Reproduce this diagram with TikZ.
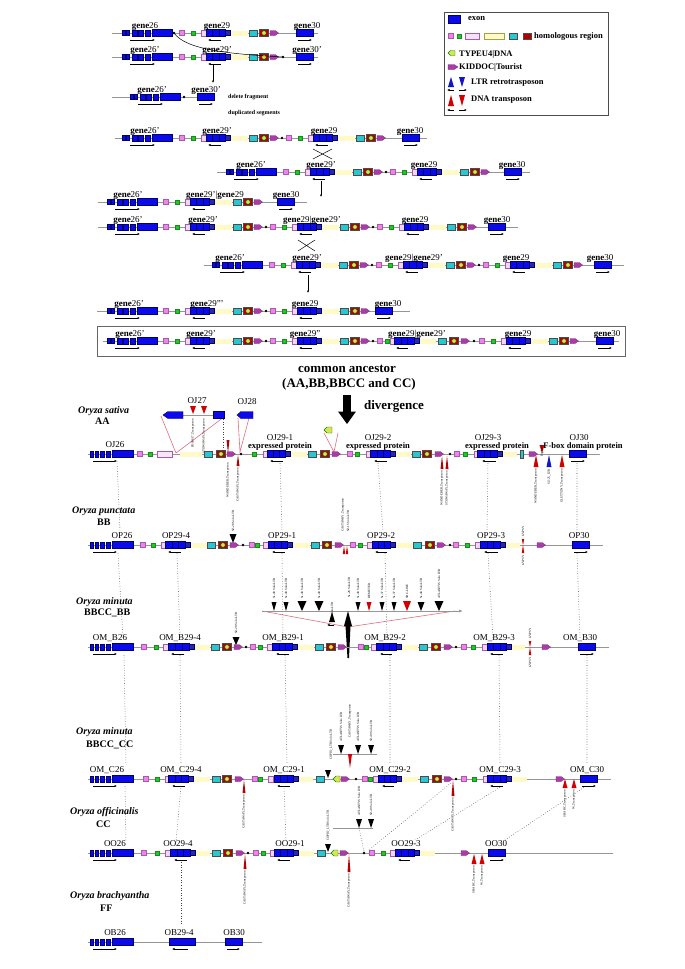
\documentclass[tikz,border=0pt]{standalone}
\usepackage{fontspec}
\setmainfont{Liberation Serif}
\usetikzlibrary{arrows.meta}
\definecolor{exb}{RGB}{10,10,235}
\definecolor{exd}{RGB}{0,0,110}
\definecolor{pk}{RGB}{240,130,240}
\definecolor{gr}{RGB}{30,200,40}
\definecolor{lpk}{RGB}{240,215,240}
\definecolor{opd}{RGB}{170,90,170}
\definecolor{yl}{RGB}{255,250,200}
\definecolor{cy}{RGB}{40,200,210}
\definecolor{rd}{RGB}{210,0,0}
\definecolor{rdk}{RGB}{180,0,0}
\definecolor{pu}{RGB}{170,60,170}
\definecolor{ty}{RGB}{215,230,80}
\definecolor{db}{RGB}{40,40,170}
\definecolor{rl}{RGB}{150,150,150}
\definecolor{bl}{RGB}{20,20,200}
\definecolor{pl}{RGB}{225,110,130}
\tikzset{
 rline/.style={draw=rl,line width=0.9pt},
 ex/.style={fill=exb,draw=exd,line width=0.4pt},
 pks/.style={fill=pk,draw=pk!70!black,line width=0.3pt},
 grs/.style={fill=gr,draw=gr!70!black,line width=0.3pt},
 ops/.style={fill=lpk,draw=opd,line width=0.5pt},
 dbs/.style={fill=db,draw=exd,line width=0.3pt},
 cys/.style={fill=cy,draw=black!70,line width=0.4pt},
 rds/.style={fill=rdk,draw=black!70,line width=0.4pt},
 tys/.style={fill=ty,draw=green!50!black,line width=0.4pt},
 pus/.style={fill=pu,draw=pu!70!black,line width=0.3pt},
 gar/.style={-{Latex[length=2.5pt,width=2.2pt]},line width=0.5pt},
 dotl/.style={draw=black!75,dotted,line width=0.55pt},
 glab/.style={font=\fontsize{9}{9}\selectfont,anchor=base,inner sep=0},
 olab/.style={font=\fontsize{9}{9}\selectfont,anchor=base,inner sep=0},
 eplab/.style={font=\bfseries\fontsize{8.5}{8.5}\selectfont,anchor=base,inner sep=0},
 vla/.style={font=\fontsize{3.2}{3.2}\selectfont,rotate=90,inner sep=0,anchor=west},
 vlb/.style={font=\fontsize{3.2}{3.2}\selectfont,rotate=90,inner sep=0,anchor=east},
 spa/.style={font=\bfseries\itshape\fontsize{10}{10}\selectfont,anchor=west,inner sep=0},
 spb/.style={font=\bfseries\fontsize{10}{10}\selectfont,anchor=west,inner sep=0},
 pinkl/.style={draw=pl,line width=0.6pt},
 lgt/.style={font=\bfseries\fontsize{8.5}{8.5}\selectfont,anchor=west,inner sep=0},
 big/.style={font=\bfseries\fontsize{13}{13}\selectfont,inner sep=0},
 sml/.style={font=\bfseries\fontsize{6}{6}\selectfont,anchor=west,inner sep=0},
}
\newcommand\RL[2]{\draw[rline] (#1,0) -- (#2,0);}
\newcommand\PK[1]{\draw[pks] ({#1},-2.5) rectangle ++(5,5);}
\newcommand\GR[1]{\draw[grs] ({#1},-2) rectangle ++(4,4);}
\newcommand\OP[1]{\draw[ops] ({#1},-3) rectangle ++(5,6);}
\newcommand\BG[2]{\draw[ex] ({#1},-3.5) rectangle ({#2},3.5);
 \draw[exd,line width=.3pt] ({(#1)+((#2)-(#1))/3},-3.5) -- ++(0,7) ({(#1)+2*((#2)-(#1))/3},-3.5) -- ++(0,7);}
\newcommand\DB[1]{\draw[dbs] ({#1},-2.5) rectangle ++(5,5);}
\newcommand\YL[2]{\fill[yl] ({#1},-2.5) rectangle ({#2},2.5);}
\newcommand\CY[1]{\draw[cys] ({#1},-3) rectangle ++(8,6);}
\newcommand\RD[1]{\draw[rds] ({#1},-3.5) rectangle ++(9,7); \draw[tys] ({#1+5},0) circle (2.2);}
\newcommand\PU[1]{\draw[pus] ({#1},-2.5) -- ({#1+5},-2.5) -- ({#1+8.5},0) -- ({#1+5},2.5) -- ({#1},2.5) -- cycle;}
\newcommand\TY[1]{\draw[tys] ({#1},0) -- ({#1+3},-3) -- ({#1+7},-3) -- ({#1+7},3) -- ({#1+3},3) -- cycle;}
\newcommand\DT[1]{\fill ({#1},0) circle (1.4);}
\newcommand\AL[2]{\draw[gar] ({#2},7) -- ({#1},7);}
\newcommand\AR[2]{\draw[gar] ({#1},7) -- ({#2},7);}
\newcommand\GT[1]{\draw[ex] ({#1},-3.5) rectangle ({#1+17},3.5); \AR{#1+2}{#1+16}}
\newcommand\Cas[1]{\YL{#1+51}{#1+69}\PK{#1}\GR{#1+12}\OP{#1+22}\BG{#1+27}{#1+46}\DB{#1+46}\CY{#1+70}\RD{#1+80}\PU{#1+91}\AL{#1+29}{#1+42}}
\newcommand\Gsix[1]{\draw[ex] ({#1},-2.5) rectangle ++(3,5); \draw[ex] ({#1+4.5},-2.5) rectangle ++(2.5,5);
 \draw[ex] ({#1+10.5},-3) rectangle ++(4.5,6); \draw[ex] ({#1+16.5},-3) rectangle ++(5,6);
 \draw[ex] ({#1+23.5},-3) rectangle ++(5,6); \draw[ex] ({#1+30},-3.5) rectangle ++(20,7); \AR{#1+8}{#1+33}}
\newcommand\Gsixb[1]{\draw[ex] ({#1},-3) rectangle ++(3,6); \draw[ex] ({#1+5},-3) rectangle ++(3,6);
 \draw[ex] ({#1+10},-3) rectangle ++(4,6); \draw[ex] ({#1+16},-3) rectangle ++(4,6);
 \draw[ex] ({#1+22},-3.5) rectangle ++(21,7); \AR{#1+3}{#1+27}}
\newcommand\GL[2]{\node[glab] at (#1,-4.5) {#2};}
\newcommand\OL[2]{\node[olab] at (#1,-6.5) {#2};}
\newcommand\Tri[5][black]{\fill[#1] ({#2},{#3}) -- ({#2-(#4)/2},{#3+(#5)}) -- ({#2+(#4)/2},{#3+(#5)}) -- cycle;}
\newcommand\gn{\textbf{gene}}
\begin{document}
\begin{tikzpicture}[x=1pt,y=-1pt]
\useasboundingbox (0,0) rectangle (685,969);
\fill[white] (0,0) rectangle (685,969);
% ---------------- legend
\draw[black!70,line width=0.6pt] (444,12) rectangle (608,115);
\draw[ex] (448,15) rectangle (460,23); \node[lgt] at (468,19) {exon};
\draw[pks] (448,33.5) rectangle (453,38.5); \draw[grs] (457,34) rectangle (461,38);
\draw[ops,fill=lpk!70] (465,33) rectangle (479,39); \draw[fill=yl,draw=yellow!60!black,line width=0.2pt] (484,33) rectangle (504,39);
\draw[cys] (509,33) rectangle (517,39); \draw[rds] (523,33) rectangle (531,39);
\node[lgt] at (534,36) {homologous region};
\draw[tys] (448,53) -- (450.5,50.5) -- (455,50.5) -- (455,55.5) -- (450.5,55.5) -- cycle; \node[lgt] at (459,54) {TYPEU4|DNA};
\draw[pus] (448,64.5) -- (454,64.5) -- (458,67) -- (454,69.5) -- (448,69.5) -- cycle; \node[lgt] at (459,67) {KIDDOC|Tourist};
\Tri[bl]{451}{77}{6}{10} \Tri[bl]{462}{87}{6}{-10}
\draw[gar] (454,90) -- (447,90); \draw[gar] (459,90) -- (467,90);
\node[lgt] at (471,83) {LTR retrotrasposon};
\Tri[rd]{451}{95}{6}{11} \Tri[rd]{462}{106}{6}{-11}
\draw[gar] (454,110) -- (447,110); \draw[gar] (459,110) -- (467,110);
\node[lgt] at (471,100) {DNA transposon};
% ---------------- row 1
\begin{scope}[shift={(0,33)}]
\RL{112}{318}\Gsix{122}\DT{174}\Cas{179}\GT{296}
\GL{145}{\gn26}\GL{217}{\gn29}\GL{307}{\gn30}
\end{scope}
\begin{scope}[shift={(0,57)}]
\RL{112}{318}\Gsix{122}\Cas{179}\DT{283}\GT{296}
\GL{145}{\gn26'}\GL{217}{\gn29'}\GL{307}{\gn30'}
\end{scope}
\draw[line width=0.5pt] (174,33) .. controls (186,50) and (230,54) .. (283,57);
\draw[gar] (213,65) -- (213,83);
\begin{scope}[shift={(0,97)}]
\RL{112}{215}\Gsix{130}\DT{184}\GT{197}
\GL{152}{\gn26'}\GL{206}{\gn30'}
\end{scope}
\node[sml] at (228,97) {delete fragment};
\node[sml] at (228,113) {duplicated segments};
\begin{scope}[shift={(0,138)}]
\RL{115}{427}\Gsix{122}\Cas{179}\DT{282}\Cas{286}\GT{402}
\GL{145}{\gn26'}\GL{217}{\gn29'}\GL{324}{\gn29}\GL{410}{\gn30}
\end{scope}
\draw[line width=0.5pt] (313,149) -- (332,159) (332,149) -- (313,159);
\begin{scope}[shift={(0,172)}]
\RL{217}{530}\Gsix{226}\Cas{283}\DT{386}\Cas{390}\GT{504}
\GL{251}{\gn26'}\GL{321}{\gn29'}\GL{424}{\gn29}\GL{512}{\gn30}
\end{scope}
\draw[gar] (321,181) -- (321,197);
\begin{scope}[shift={(0,202)}]
\RL{98}{307}\Gsix{107}\Cas{163}\GT{277}
\GL{128}{\gn26'}\GL{215}{\gn29'|\gn29}\GL{286}{\gn30}
\end{scope}
\begin{scope}[shift={(0,227)}]
\RL{98}{518}\Gsix{107}\Cas{163}\DT{266}\Cas{270}\DT{373}\Cas{377}\GT{488}
\GL{128}{\gn26'}\GL{203}{\gn29'}\GL{312}{\gn29|\gn29'}\GL{415}{\gn29}\GL{497}{\gn30}
\end{scope}
\draw[line width=0.5pt] (298,240) -- (315,251) (315,240) -- (298,251);
\begin{scope}[shift={(0,265)}]
\RL{204}{624}\Gsix{212}\Cas{269}\DT{372}\Cas{376}\DT{479}\Cas{483}\GT{594}
\GL{230}{\gn26'}\GL{307}{\gn29'}\GL{414}{\gn29|\gn29'}\GL{516}{\gn29}\GL{600}{\gn30}
\end{scope}
\draw[gar] (308,275) -- (308,293);
\begin{scope}[shift={(0,311)}]
\RL{97}{410}\Gsix{107}\Cas{163}\DT{266}\Cas{270}\GT{375}
\GL{129}{\gn26'}\GL{207}{\gn29'''}\GL{305}{\gn29}\GL{388}{\gn30}
\end{scope}
\draw[black!60,line width=0.6pt] (97,326) rectangle (625,356);
\begin{scope}[shift={(0,341)}]
\RL{103}{619}\Gsix{107}\Cas{163}\DT{266}\Cas{270}\DT{373}
\YL{419}{436}\PK{377}\GR{385}\OP{390}\BG{394}{414}\DB{414}\CY{438}\RD{449}\PU{461}\AL{396}{408}
\DT{474}\Cas{479}\GT{596}
\GL{130}{\gn26'}\GL{201}{\gn29'}\GL{305}{\gn29''}\GL{417}{\gn29|\gn29'}\GL{518}{\gn29}\GL{607}{\gn30}
\end{scope}
% ---------------- ancestor
\node[big] at (347,369) {common ancestor};
\node[big] at (349,384) {(AA,BB,BBCC and CC)};
\fill (343,395) rectangle (351,412); \fill (338,411.5) -- (356,411.5) -- (347,424) -- cycle;
\node[big] at (394,406) {divergence};
% ---------------- species labels
\node[spa] at (78,411) {Oryza sativa}; \node[spb] at (95,421) {AA};
\node[spa] at (72,511) {Oryza punctata}; \node[spb] at (97,522) {BB};
\node[spa] at (76,602) {Oryza minuta}; \node[spb] at (84,613) {BBCC\_BB};
\node[spa] at (76,732) {Oryza minuta}; \node[spb] at (86,745) {BBCC\_CC};
\node[spa] at (70,812) {Oryza officinalis}; \node[spb] at (96,824) {CC};
\node[spa] at (70,896) {Oryza brachyantha}; \node[spb] at (100,908) {FF};
% ---------------- OJ27 / OJ28
\draw[pinkl] (161,416) -- (176,453) -- (224,417);
\draw[pinkl] (238,418) -- (240,452) -- (249,418);
\draw[pinkl] (324,433) -- (334,452) -- (338,433);
\draw[rline] (183,415) -- (213,415);
\draw[ex] (163,415) -- (168,411.5) -- (183,411.5) -- (183,418.5) -- (168,418.5) -- cycle;
\draw[ex] (213,411.5) rectangle (224,418.5);
\draw[ex] (237,415) -- (241,411.5) -- (253,411.5) -- (253,418.5) -- (241,418.5) -- cycle;
\Tri[rd]{193}{414}{6}{-8} \Tri[rd]{204}{414}{6}{-8}
\node[olab] at (197,403) {OJ27}; \node[olab] at (247,404) {OJ28};
\draw[dotl] (223,419) -- (223,451);
\node[vlb] at (193,419) {FOS0617\_Transposon};
\node[vlb] at (204,419) {STOWAWAY\_Transposon};
\draw[tys] (324,430) -- (327,427) -- (332,427) -- (332,433) -- (327,433) -- cycle;
% ---------------- AA row
\begin{scope}[shift={(0,454)}]
\RL{88}{600}\Gsixb{90}
\PK{137}\GR{148}\draw[ops,fill=lpk!60] (157,-3) rectangle (172,3);
\YL{180}{202}\CY{204}\RD{216}\PU{227}\DT{241}
\YL{291}{307}\GR{252}\OP{263}\BG{267}{285}\DB{285}\CY{308}\RD{320}\PU{332}\AL{270}{283}
\YL{396}{411}\PK{347}\GR{355}\OP{366}\BG{370}{390}\DB{390}\CY{412}\RD{422}\PU{435}\AL{374}{387}
\DT{450}\YL{503}{517}\PK{454}\GR{463}\OP{474}\BG{477}{497}\DB{497}\draw[cys] (520,-4) rectangle (523,4);\PU{529}\AL{482}{496}
\GT{569}
\Tri[rdk]{228}{-1}{3}{-13}\Tri[rdk]{238}{1}{3}{11}
\Tri[rdk]{442}{2}{3}{13}\Tri[rdk]{447}{2}{3}{13}
\Tri[rd]{542}{-1}{5}{-8}\Tri[rd]{536}{1}{5}{12}\Tri[bl]{549}{1}{5}{12}\Tri[rd]{562}{1}{5}{12}
\OL{115}{OJ26}
\node[olab] at (280,-14) {OJ29-1}; \node[eplab] at (280,-5.5) {expressed protein};
\node[olab] at (378,-14) {OJ29-2}; \node[eplab] at (378,-5.5) {expressed protein};
\node[olab] at (488,-14) {OJ29-3}; \node[eplab] at (497,-5.5) {expressed protein};
\node[olab] at (579,-14) {OJ30}; \node[eplab] at (583,-5.5) {F-box domain protein};
\node[vlb] at (228,9) {WANDERER\_Transposon};
\node[vlb] at (238,14) {CASTAWAY\_Transposon};
\node[vlb] at (442,17) {WANDERER\_Transposon};
\node[vlb] at (447,17) {STOWAWAY\_Transposon};
\node[vla] at (542,3) {Explorer};
\node[vlb] at (536,15) {WANDERER\_Transposon};
\node[vlb] at (549,15) {SZ-25\_LTR};
\node[vlb] at (562,15) {GLUTTONY\_Transposon};
\end{scope}
% dotted AA->BB
\draw[dotl] (117,461) -- (120,531) (280,463) -- (282,531) (378,463) -- (383,531) (488,463) -- (487,531) (577,463) -- (577,531);
% ---------------- BB row
\begin{scope}[shift={(0,545)}]
\RL{88}{603}\Gsixb{90}
\YL{190}{207}\PK{140}\GR{151}\OP{161}\BG{165}{185}\DB{185}\CY{207}\RD{218}\PU{230}\AL{168}{181}
\DT{243}
\YL{293}{310}\PK{249}\GR{255}\OP{263}\BG{268}{287}\DB{287}\CY{311}\RD{322}\PU{335}\AL{272}{285}
\YL{396}{413}\PK{350}\GR{358}\OP{367}\BG{372}{390}\DB{390}\CY{413}\RD{425}\PU{437}\AL{375}{387}
\DT{450}\YL{505}{520}\PK{453}\GR{465}\OP{475}\BG{480}{500}\DB{500}\AL{484}{498}\PU{537}
\GT{572}
\Tri{233}{-2}{7}{-9}
\Tri[rd]{344}{1}{2.5}{8}\Tri[rd]{347}{1}{2.5}{8}
\Tri[rd]{523}{0}{2.5}{-6}\Tri[rd]{523}{0}{2.5}{8}
\OL{122}{OP26}\OL{176}{OP29-4}\OL{282}{OP29-1}\OL{381}{OP29-2}\OL{491}{OP29-3}\OL{579}{OP30}
\node[vla] at (233,-13) {SZ-28 Solo LTR};
\node[vla] at (343,-13) {CASTAWAY\_Transposon};
\node[vla] at (348,-13) {SZ-15 Solo LTR};
\node[vla] at (523,-8) {GYPSY};
\node[vlb] at (523,10) {GYPSY};
\end{scope}
% dotted BB->BBCC_BB
\draw[dotl] (118,553) -- (123,638) (177,553) -- (180,638) (282,553) -- (283,638) (385,553) -- (387,638) (488,553) -- (493,638) (577,553) -- (580,638);
% ---------------- BBCC_BB inserted
\draw[pinkl] (262,611) -- (348,627) -- (455,611);
\draw[rline,-{Latex[length=4pt,width=3pt]}] (262,611) -- (463,611);
\Tri{274}{611}{5}{-9}\Tri{286}{611}{5}{-9}\Tri{302}{611}{9}{-10}\Tri{319}{611}{9}{-10}
\Tri{358}{611}{5}{-9}\Tri[rd]{369}{611}{5}{-9}\Tri{382}{611}{5}{-9}\Tri{394}{611}{5}{-9}
\Tri[rd]{407}{611}{8}{-10}\Tri{421}{611}{7}{-9}\Tri{439}{611}{9}{-10}
\Tri{332}{612}{6}{10}\Tri{348}{611}{8}{15}
\fill (345.5,626) -- (350.5,626) -- (349,658) -- (347.5,658) -- cycle;
\draw[gar] (334,625) -- (327,625);
\foreach \x/\t in {274/Ss-40 Solo LTR,286/Ss-40 Solo LTR,302/Ss-40 Solo LTR,319/Ss-40 Solo LTR,358/Ss-40 Solo LTR,369/DEMETER,382/Ss-37 Solo LTR,394/Ss-37 Solo LTR,407/SRC-LINE,421/Ss-40 Solo LTR,439/ATLANTYS Solo LTR}
 {\node[vla] at (\x,599) {\t};}
\node[vla] at (332,623) {Ss-28 Solo LTR};
\node[vla] at (349,598) {Ss-28 Solo LTR};
% ---------------- BBCC_BB row
\begin{scope}[shift={(0,647)}]
\RL{88}{609}\Gsixb{90}
\YL{193}{210}\PK{141}\GR{154}\OP{163}\BG{168}{189}\DB{189}\CY{211}\RD{222}\PU{234}\AL{171}{184}
\DT{246}
\YL{297}{314}\PK{250}\GR{258}\OP{267}\BG{272}{292}\DB{292}\CY{315}\RD{326}\PU{338}\AL{276}{289}
\YL{400}{418}\PK{358}\GR{364}\OP{371}\BG{376}{396}\DB{396}\CY{419}\RD{431}\PU{444}\AL{380}{392}
\DT{456}\YL{512}{525}\PK{461}\GR{471}\OP{482}\BG{487}{506}\DB{506}\AL{490}{503}\PU{542}
\GT{578}
\Tri{236}{-2}{7}{-8}
\Tri[rd]{530}{0}{2.5}{-6}\Tri[rd]{530}{0}{2.5}{8}
\OL{110}{OM\_B26}\OL{180}{OM\_B29-4}\OL{283}{OM\_B29-1}\OL{385}{OM\_B29-2}\OL{494}{OM\_B29-3}\OL{580}{OM\_B30}
\node[vla] at (236,-13) {SZ-28 Solo LTR};
\node[vla] at (530,-8) {GYPSY};
\node[vlb] at (530,10) {GYPSY};
\end{scope}
% dotted BBCC_BB -> BBCC_CC
\draw[dotl] (124,655) -- (126,764) (180,655) -- (181,764) (285,655) -- (287,764) (390,655) -- (390,764) (499,655) -- (500,764) (587,655) -- (587,764);
% ---------------- BBCC_CC inserted
\draw[rline] (333,754) -- (377,754);
\Tri{341}{754}{6}{-9}\Tri{358}{754}{6}{-9}\Tri{371}{754}{6}{-9}
\Tri[rd]{350}{768}{4}{-14}
\node[vla] at (331,760) {COPIO\_LTR Solo LTR};
\node[vla] at (341,742) {ATLANTYS Solo LTR};
\node[vla] at (350,738) {CASTAWAY\_Transposon};
\node[vla] at (358,742) {ATLANTYS Solo LTR};
\node[vla] at (371,742) {SZ-49 Solo LTR};
% ---------------- BBCC_CC row
\begin{scope}[shift={(0,779)}]
\RL{88}{611}\Gsixb{90}
\YL{193}{210}\PK{143}\GR{155}\OP{165}\BG{168}{188}\DB{188}\CY{212}\RD{222}\PU{235}\AL{172}{185}
\Tri[rdk]{244}{1}{3}{13}
\YL{298}{313}\PK{252}\GR{258}\OP{268}\BG{274}{293}\DB{293}\CY{316}\Tri{328}{-1}{6}{-8}\TY{333}\PU{341}\AL{277}{290}
\DT{356}
\YL{401}{418}\PK{362}\GR{368}\OP{373}\BG{378}{396}\DB{396}\CY{420}\RD{432}\PU{444}\AL{382}{394}
\Tri[rdk]{453}{1}{3}{16}\DT{456}
\YL{512}{527}\PK{461}\GR{472}\OP{483}\BG{487}{506}\DB{506}\AL{490}{503}\PU{556}
\Tri[rd]{565}{0}{5}{9}\Tri[rd]{574}{0}{5}{9}
\GT{580}
\OL{107}{OM\_C26}\OL{181}{OM\_C29-4}\OL{284}{OM\_C29-1}\OL{390}{OM\_C29-2}\OL{500}{OM\_C29-3}\OL{587}{OM\_C30}
\node[vlb] at (244,16) {CASTAWAY\_Transposon};
\node[vlb] at (453,19) {CASTAWAY\_Transposon};
\node[vlb] at (565,11) {SHARC\_Transposon};
\node[vlb] at (574,11) {W\_Transposon};
\end{scope}
% dotted BBCC_CC -> CC
\draw[dotl] (125,786) -- (126,842) (181,786) -- (176,842) (284,786) -- (286,842) (451,783) -- (369,850) (502,786) -- (415,840) (586,786) -- (505,840);
% ---------------- CC inserted
\draw[rline] (333,828) -- (373,828);
\Tri{359}{828}{6}{-9}\Tri{371}{828}{6}{-9}
\draw[dotl] (359,828) -- (364,851);
\node[vla] at (359,816) {ATLANTYS Solo LTR};
\node[vla] at (371,816) {SZ-49 Solo LTR};
% ---------------- CC row
\begin{scope}[shift={(0,853)}]
\RL{88}{613}\Gsixb{90}
\YL{194}{210}\PK{141}\GR{155}\OP{165}\BG{170}{190}\DB{190}\CY{212}\RD{223}\PU{236}\AL{174}{187}
\Tri[rdk]{245}{1}{3}{15}\DT{248}
\YL{298}{314}\PK{253}\GR{261}\OP{270}\BG{274}{293}\DB{293}\CY{317}\Tri{328}{-1}{6}{-8}\TY{331}\PU{340}\AL{277}{290}
\Tri[rdk]{349}{1}{3}{18}
\DT{364}\YL{419}{435}\PK{369}\GR{381}\OP{390}\BG{395}{414}\DB{414}\AL{398}{410}\PU{461}
\Tri[rd]{474}{1}{5}{10}\Tri[rd]{482}{1}{5}{10}
\GT{488}
\OL{115}{OO26}\OL{178}{OO29-4}\OL{290}{OO29-1}\OL{406}{OO29-3}\OL{496}{OO30}
\node[vlb] at (245,18) {CASTAWAY\_Transposon};
\node[vlb] at (349,21) {CASTAWAY\_Transposon};
\node[vlb] at (474,13) {SHARC\_Transposon};
\node[vlb] at (482,13) {W\_Transposon};
\node[vla] at (328,-12) {COPIO\_LTR Solo LTR};
\end{scope}
\draw[dotl] (181,862) -- (181,925);
% ---------------- FF row
\begin{scope}[shift={(0,942)}]
\RL{88}{262}\Gsixb{90}
\draw[ex] (169,-3.5) rectangle (195,3.5); \AL{172}{188}
\draw[ex] (225,-3.5) rectangle (242,3.5); \AR{227}{240}
\OL{115}{OB26}\OL{179}{OB29-4}\OL{234}{OB30}
\end{scope}
\end{tikzpicture}
\end{document}
